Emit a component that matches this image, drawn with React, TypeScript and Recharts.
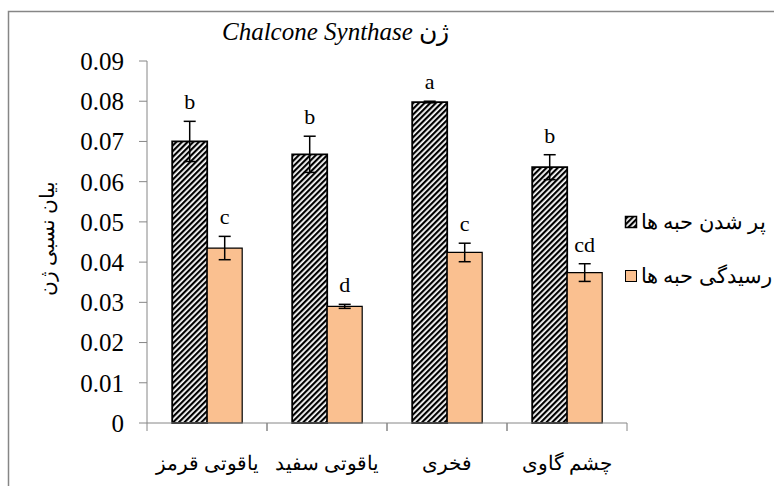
import React from "react";
import { BarChart, Bar, XAxis, YAxis, ErrorBar, LabelList } from "recharts";

const categories = ["یاقوتی قرمز", "یاقوتی سفید", "فخری", "چشم گاوی"];
const fillingValues = [0.07, 0.0668, 0.0798, 0.0636];
const fillingErrors = [0.005, 0.0045, 0.0002, 0.0031];
const fillingLetters = ["b", "b", "a", "b"];
const ripeningValues = [0.0435, 0.029, 0.0424, 0.0374];
const ripeningErrors = [0.0029, 0.0005, 0.0023, 0.0022];
const ripeningLetters = ["c", "d", "c", "cd"];
const yTicks = [0, 0.01, 0.02, 0.03, 0.04, 0.05, 0.06, 0.07, 0.08, 0.09];
const legendNames = ["پر شدن حبه ها", "رسیدگی حبه ها"];

const data = categories.map((name, i) => ({
  name,
  filling: fillingValues[i],
  fillingErr: fillingErrors[i],
  ripening: ripeningValues[i],
  ripeningErr: ripeningErrors[i],
}));

const serif = "'Liberation Serif', 'Times New Roman', serif";
const axisGray = "#868686";
const orange = "#FAC090";
const band = 120;

const makeLetter =
  (letters: string[], errors: number[], values: number[]) => (props: any) => {
    const { x, y, width, height, index } = props;
    const errPx = (Number(height) * errors[index]) / values[index];
    return (
      <text
        x={Number(x) + Number(width) / 2}
        y={Number(y) - errPx - 12}
        textAnchor="middle"
        fontSize={22}
        fontFamily={serif}
        fill="#000"
      >
        {letters[index]}
      </text>
    );
  };

const CategoryTick = (props: any) => {
  const { x, y, payload } = props;
  return (
    <g>
      <line x1={x - band / 2} x2={x - band / 2} y1={y} y2={y + 8} stroke={axisGray} />
      <line x1={x + band / 2} x2={x + band / 2} y1={y} y2={y + 8} stroke={axisGray} />
      <text x={x} y={y + 47} textAnchor="middle" fontSize={20} fontFamily={serif} fill="#000">
        {payload.value}
      </text>
    </g>
  );
};

function Hatch({ id }: { id: string }) {
  return (
    <pattern
      id={id}
      patternUnits="userSpaceOnUse"
      width={4}
      height={4}
      patternTransform="rotate(45)"
    >
      <rect x={0} y={0} width={4} height={4} fill="#fff" />
      <rect x={0} y={0} width={2.2} height={4} fill="#000" />
    </pattern>
  );
}

export default function App() {
  return (
    <div style={{ position: "absolute", left: 0, top: 0, width: 774, height: 486, background: "#fff" }}>
      <svg width={774} height={486} style={{ position: "absolute", left: 0, top: 0 }}>
        <defs>
          <Hatch id="hatch-legend" />
        </defs>
        <rect x={8.5} y={11.5} width={800} height={500} fill="none" stroke={axisGray} strokeWidth={1.5} />
        <text x={222} y={40} fontSize={25} fontFamily={serif} fill="#000">
          <tspan fontStyle="italic">Chalcone Synthase</tspan>
          <tspan> ژن</tspan>
        </text>
        <text
          x={47}
          y={238}
          transform="rotate(-90 47 238)"
          textAnchor="middle"
          dominantBaseline="central"
          fontSize={20}
          fontFamily={serif}
          fill="#000"
        >
          بیان نسبی ژن
        </text>
        <rect x={625.5} y={216.5} width={11} height={11} fill="url(#hatch-legend)" stroke="#000" strokeWidth={1.5} />
        <text x={641} y={229} fontSize={21} fontFamily={serif} fill="#000">
          {legendNames[0]}
        </text>
        <rect x={625.5} y={270.5} width={11} height={11} fill={orange} stroke="#000" strokeWidth={1} />
        <text x={641} y={283} fontSize={21} fontFamily={serif} fill="#000">
          {legendNames[1]}
        </text>
      </svg>
      <div style={{ position: "absolute", left: 0, top: 0 }}>
        <BarChart
          width={774}
          height={486}
          data={data}
          margin={{ top: 61, right: 147, bottom: 0, left: 0 }}
          barCategoryGap="21%"
          barGap={0}
        >
          <defs>
            <Hatch id="hatch-bar" />
          </defs>
          <XAxis
            dataKey="name"
            height={63}
            stroke={axisGray}
            tickLine={false}
            tickSize={0}
            tickMargin={0}
            tick={<CategoryTick />}
            interval={0}
          />
          <YAxis
            width={147}
            domain={[0, 0.09]}
            ticks={yTicks}
            interval={0}
            stroke={axisGray}
            tickSize={8}
            tickMargin={15}
            tickFormatter={(v: number) => (v === 0 ? "0" : v.toFixed(2))}
            tick={{ fill: "#000", fontSize: 25, fontFamily: serif }}
          />
          <Bar dataKey="filling" fill="url(#hatch-bar)" stroke="#000" strokeWidth={1.8} isAnimationActive={false}>
            <ErrorBar dataKey="fillingErr" width={6} stroke="#000" strokeWidth={1.5} />
            <LabelList dataKey="filling" content={makeLetter(fillingLetters, fillingErrors, fillingValues)} />
          </Bar>
          <Bar dataKey="ripening" fill={orange} stroke="#000" strokeWidth={1.2} isAnimationActive={false}>
            <ErrorBar dataKey="ripeningErr" width={6} stroke="#000" strokeWidth={1.5} />
            <LabelList dataKey="ripening" content={makeLetter(ripeningLetters, ripeningErrors, ripeningValues)} />
          </Bar>
        </BarChart>
      </div>
    </div>
  );
}
